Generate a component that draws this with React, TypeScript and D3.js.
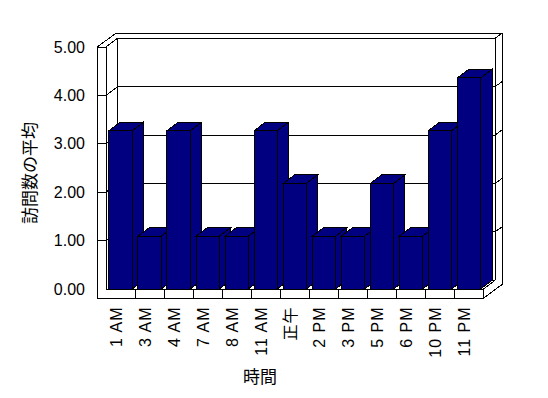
import React from 'react';
import * as d3 from 'd3';

const categories = ['1 AM', '3 AM', '4 AM', '7 AM', '8 AM', '11 AM', '正午', '2 PM', '3 PM', '5 PM', '6 PM', '10 PM', '11 PM'];
const values = [3.27, 1.09, 3.27, 1.09, 1.09, 3.27, 2.18, 1.09, 1.09, 2.18, 1.09, 3.27, 4.36];
const yTicks = [0, 1, 2, 3, 4, 5];
const yTitle = '訪問数の平均';
const xTitle = '時間';

const FONT = '"Liberation Sans", Arial, "Noto Sans CJK JP", sans-serif';
const JFONT = '"Noto Sans CJK JP", sans-serif';

export default function App() {
  const W = 548, H = 398;
  const left = 106, right = 483.5, floorY = 289, topY = 47;
  const dx = 11.5, dy = 8.7; // plot depth
  const tx = 7.3, ty = 5.3; // back wall thickness
  const wallW = 8.7; // left wall thickness
  const floorH = 9.3; // floor thickness

  const x = d3.scaleBand<string>().domain(categories).range([left, right]).paddingInner(0.2).paddingOuter(0.1);
  const y = d3.scaleLinear().domain([0, 5]).range([floorY, topY]);
  const step = x.step();
  const bw = x.bandwidth();
  const bandStart = (i: number) => left + i * step;

  const L = (x1: number, y1: number, x2: number, y2: number, k: string) => (
    <line key={k} x1={x1} y1={y1} x2={x2} y2={y2} stroke="#000" strokeWidth={1} />
  );

  const pts = (arr: number[][]) => arr.map(p => p.join(',')).join(' ');

  const outer = [
    [left - wallW, topY],
    [left - wallW, floorY + floorH],
    [right, floorY + floorH],
    [right + dx + tx, floorY + floorH - dy - ty],
    [right + dx + tx, topY - dy - ty],
    [left - wallW + dx + tx, topY - dy - ty],
  ];

  const grid = yTicks.filter(v => v > 0 && v < 5);

  return (
    <svg width={W} height={H} style={{ position: 'absolute', left: 0, top: 0, background: '#fff' }} shapeRendering="crispEdges">
      <polygon points={pts(outer)} fill="#fff" stroke="#000" strokeWidth={1} />
      {L(left - wallW, topY, left, topY, 'ts')}
      {L(left, topY, left, floorY, 'lwi')}
      {L(left, topY, left + dx, topY - dy, 'idiag')}
      {L(left + dx, topY - dy, right + dx, topY - dy, 'bt')}
      {L(right + dx, topY - dy, right + dx, floorY - dy, 'br')}
      {L(left + dx, topY - dy, left + dx, floorY - dy, 'bl')}
      {L(right + dx, topY - dy, right + dx + tx, topY - dy - ty, 'cd')}
      {L(left + dx, floorY - dy, right + dx, floorY - dy, 'fb')}
      {L(left, floorY, right, floorY, 'ft')}
      {L(right, floorY, right, floorY + floorH, 'fr')}
      {L(right, floorY, right + dx, floorY - dy, 'frd')}
      {grid.map(v => (
        <g key={'g' + v}>
          {L(left - wallW, y(v), left, y(v), 'a')}
          {L(left, y(v), left + dx, y(v) - dy, 'b')}
          {L(left + dx, y(v) - dy, right + dx, y(v) - dy, 'c')}
          {L(right + dx, y(v) - dy, right + dx + tx, y(v) - dy - ty, 'd')}
        </g>
      ))}
      {categories.slice(1).map((c, i) => L(bandStart(i + 1), floorY, bandStart(i + 1), floorY + floorH, 'ft' + i))}
      {categories.map((c, i) => {
        const xb = x(c) as number;
        const yt = y(values[i]);
        const yb = floorY;
        const side = [[xb + bw, yb], [xb + bw, yt], [xb + bw + dx, yt - dy], [xb + bw + dx, yb - dy]];
        const top = [[xb, yt], [xb + bw, yt], [xb + bw + dx, yt - dy], [xb + dx, yt - dy]];
        return (
          <g key={'bar' + i}>
            <polygon points={pts(side)} fill="#000080" stroke="#000" strokeWidth={1} />
            <polygon points={pts(top)} fill="#000080" stroke="#000" strokeWidth={1} />
            <rect x={xb} y={yt} width={bw} height={yb - yt} fill="#000080" stroke="#000" strokeWidth={1} />
          </g>
        );
      })}
      {yTicks.map(v => (
        <text key={'yl' + v} x={85} y={y(v)} textAnchor="end" dominantBaseline="central"
          fontFamily={FONT} fontSize={16} fill="#000">{v.toFixed(2)}</text>
      ))}
      {categories.map((c, i) => (
        <text key={'xl' + i} transform={`translate(${(x(c) as number) + bw / 2 - 4},306.5) rotate(-90)`}
          textAnchor="end" dominantBaseline="central" fontFamily={FONT} fontSize={16} letterSpacing={1} fill="#000">{c}</text>
      ))}
      <text transform="translate(28,173) rotate(-90)" textAnchor="middle" dominantBaseline="central"
        fontFamily={JFONT} fontSize={17} fill="#000">{yTitle}</text>
      <text x={260} y={375} textAnchor="middle" dominantBaseline="central" fontFamily={JFONT} fontSize={17} fill="#000">{xTitle}</text>
    </svg>
  );
}
